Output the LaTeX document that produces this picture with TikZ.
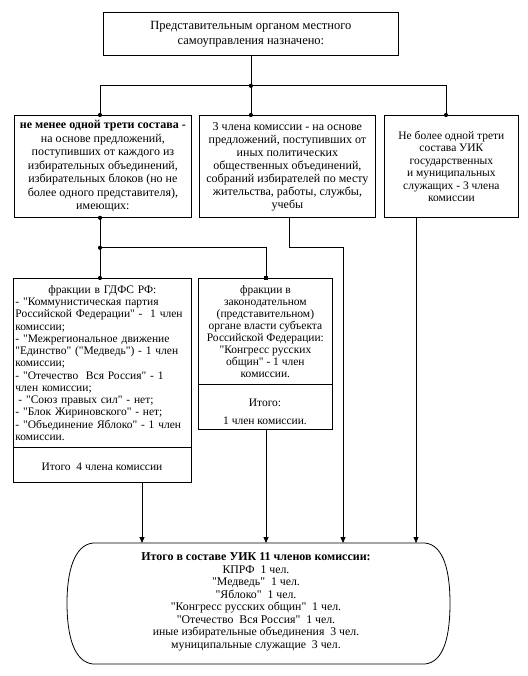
\documentclass[tikz,border=0pt]{standalone}
\usepackage{fontspec}
\setmainfont{Liberation Serif}[Ligatures=TeXOff]
\usetikzlibrary{arrows.meta,calc}
\newcommand\myfs{\fontsize{11.5}{13.4}\selectfont}
\begin{document}
\begin{tikzpicture}[x=1pt,y=-1pt,line width=0.8pt,
  box/.style={draw,inner sep=0pt,anchor=north west,align=center,font=\myfs},
  dot/.style={circle,fill,inner sep=0pt,minimum size=4.2pt},
  sqdot/.style={rectangle,fill,inner sep=0pt,minimum size=4pt},
  arr/.style={-{Triangle[width=5pt,length=6pt]}},
  lbl/.style={inner sep=0pt,align=center,font=\myfs}]
\fill[white] (0,0) rectangle (527,676);
\useasboundingbox (0,0) rectangle (527,676);
% boxes
\node[box,minimum width=295pt,minimum height=43pt,font=\fontsize{12.5}{15}\selectfont] (top) at (103,12)
  {Представительным органом местного\\самоуправления назначено:};
\node[box,minimum width=177pt,minimum height=102pt,font=\fontsize{12}{13.5}\selectfont] (L1) at (14,115)
  {\textbf{не менее одной трети состава -}\\на основе предложений,\\поступивших от каждого из\\избирательных объединений,\\избирательных блоков (но не\\более одного представителя),\\имеющих:};
\node[box,minimum width=176pt,minimum height=102pt,font=\fontsize{12}{13}\selectfont] (M1) at (199,115)
  {3 члена комиссии - на основе\\предложений, поступивших от\\иных политических\\общественных объединений,\\собраний избирателей по месту\\жительства, работы, службы,\\учебы};
\node[box,minimum width=134pt,minimum height=102pt,font=\fontsize{11.5}{12.4}\selectfont] (R1) at (384,115)
  {Не более одной трети\\состава УИК\\государственных\\и муниципальных\\служащих - 3 члена\\комиссии};
\node[box,minimum width=178pt,minimum height=169pt,text width=174pt,align=left,font=\fontsize{11.5}{12.25}\selectfont] (L2) at (13,278)
  {\makebox[174pt]{фракции в ГДФС РФ:}\\- "Коммунистическая партия\\Российской Федерации" - \ 1 член\\комиссии;\\- "Межрегиональное движение\\"Единство" ("Медведь") - 1 член\\комиссии;\\- "Отечество \ Вся Россия" - 1\\член комиссии;\\\hspace*{3pt}- "Союз правых сил" - нет;\\- "Блок Жириновского" - нет;\\- "Объединение Яблоко" - 1 член\\комиссии.};
\node[box,minimum width=178pt,minimum height=35pt] (L2b) at (13,447) {};
\node[lbl] (L2bt) at (102,467) {Итого \ 4 члена комиссии};
\node[box,minimum width=134pt,minimum height=106pt,font=\fontsize{11.5}{12}\selectfont] (M2) at (198,278)
  {фракции в\\законодательном\\(представительном)\\органе власти субъекта\\Российской Федерации:\\"Конгресс русских\\общин" - 1 член\\комиссии.};
\node[box,minimum width=134pt,minimum height=45pt] (M2b) at (198,384) {};
\node[lbl,font=\fontsize{11.5}{18}\selectfont] (M2bt) at (265,412) {Итого:\\1 член комиссии.};
% total
\node[inner sep=0pt,minimum width=383pt,minimum height=121pt,anchor=north west] (total) at (67,543) {};
\draw (93,543) -- (425,543) .. controls (444,545) and (450,572) .. (450,603)
  .. controls (450,636) and (444,662) .. (425,664) -- (93,664)
  .. controls (74,662) and (67,636) .. (67,603) .. controls (67,572) and (74,545) .. (93,543) -- cycle;
\node[lbl,font=\fontsize{11.8}{12.5}\selectfont] (tott) at (256,602)
  {\textbf{\fontsize{12}{12.5}\selectfont Итого в составе УИК 11 членов комиссии:}\\КПРФ \ 1 чел.\\"Медведь" \ 1 чел.\\"Яблоко" \ 1 чел.\\"Конгресс русских общин" \ 1 чел.\\"Отечество \ Вся Россия" \ 1 чел.\\иные избирательные объединения \ 3 чел.\\муниципальные служащие \ 3 чел.};
% connectors top
\coordinate (j0) at ($(top.south)+(0,30)$);
\coordinate (cL) at ($(L1.north west)+(86,0)$);
\coordinate (cM) at (j0 |- M1.north);
\coordinate (cR) at ($(R1.north west)+(62,0)$);
\draw (top.south) -- (cM);
\draw (cL) |- (j0) -| (cR);
\foreach \p in {j0,cL,cM,cR} \node[dot] at (\p) {};
% L1 to second row
\coordinate (dL) at ($(L1.south west)+(86,0)$);
\coordinate (j1) at ($(dL)+(0,30)$);
\coordinate (eL) at (j1 |- L2.north);
\coordinate (eM) at ($(M2.north west)+(68,0)$);
\draw (dL) -- (eL);
\draw (j1) -| (eM);
\foreach \p in {dL,j1,eL} \node[dot] at (\p) {};
\node[sqdot] at (eM) {};
% arrows to total
\coordinate (colA) at (142,0);
\coordinate (colB) at (266,0);
\coordinate (colC) at (343,0);
\coordinate (colD) at (416,0);
\coordinate (fM) at ($(M1.south west)+(90,0)$);
\draw[arr] (L2b.south -| colA) -- (total.north -| colA);
\draw[arr] (M2b.south -| colB) -- (total.north -| colB);
\draw[arr] (fM) -- ++(0,30) -| (total.north -| colC);
\draw[arr] (R1.south -| colD) -- (total.north -| colD);
\end{tikzpicture}
\end{document}
